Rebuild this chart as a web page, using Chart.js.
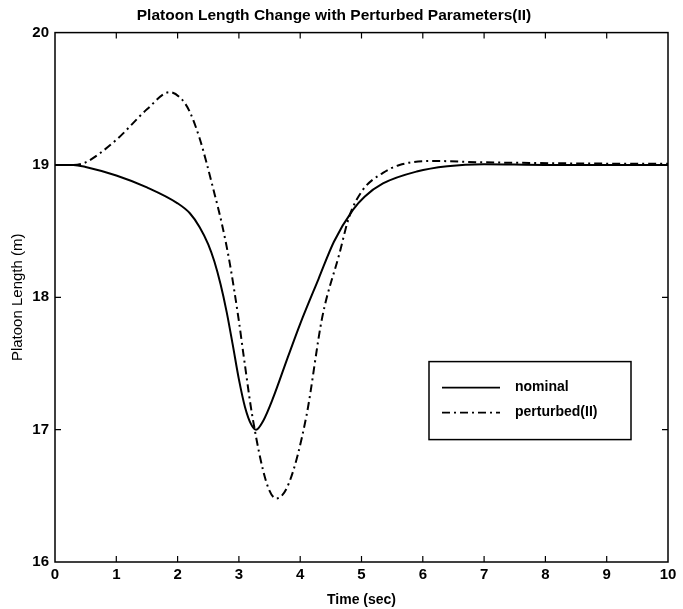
<!DOCTYPE html>
<html>
<head>
<meta charset="utf-8">
<script src="https://cdn.jsdelivr.net/npm/chart.js@4/dist/chart.umd.min.js"></script>
<style>
  html, body { margin: 0; padding: 0; background: #fff; }
  #wrap { width: 683px; height: 609px; }
</style>
</head>
<body>
<div id="wrap"><canvas id="c" width="683" height="609"></canvas></div>
<script>
// ---- data ----
const nominalTime = [0, 0.3, 0.5, 1.0, 1.5, 2.0, 2.2, 2.36, 2.5, 2.6, 2.7, 2.8, 2.9, 3.0, 3.1, 3.2, 3.28, 3.4, 3.55, 3.8, 4.0, 4.3, 4.55, 4.86, 5.05, 5.35, 5.9, 6.4, 7.0, 8.0, 9.0, 10.0];
const nominalValue = [19.0, 19.0, 18.985, 18.92, 18.83, 18.71, 18.635, 18.53, 18.40, 18.27, 18.10, 17.89, 17.64, 17.38, 17.17, 17.04, 17.0, 17.07, 17.23, 17.55, 17.80, 18.14, 18.42, 18.66, 18.76, 18.86, 18.95, 18.99, 19.005, 19.0, 19.0, 19.0];

const perturbedTime = [0, 0.3, 0.5, 1.0, 1.5, 1.87, 2.08, 2.2, 2.36, 2.47, 2.57, 2.72, 2.85, 3.0, 3.08, 3.22, 3.45, 3.61, 3.82, 4.10, 4.36, 4.64, 4.80, 5.02, 5.35, 5.62, 6.17, 6.98, 7.8, 9.0, 10.0];
const perturbedValue = [19.0, 19.0, 19.02, 19.19, 19.42, 19.55, 19.49, 19.40, 19.20, 19.02, 18.84, 18.56, 18.26, 17.82, 17.55, 17.10, 16.60, 16.48, 16.60, 17.10, 17.85, 18.33, 18.61, 18.81, 18.94, 19.0, 19.03, 19.02, 19.015, 19.01, 19.01];

const seriesNames = ["nominal", "perturbed(II)"];
const xTickLabels = ["0", "1", "2", "3", "4", "5", "6", "7", "8", "9", "10"];
const yTickLabels = ["16", "17", "18", "19", "20"];
const chartTitle = "Platoon Length Change with Perturbed Parameters(II)";
const xTitle = "Time (sec)";
const yTitle = "Platoon Length (m)";

const toPts = (xs, ys) => xs.map((x, i) => ({ x: x, y: ys[i] }));
const FONT = "'Liberation Sans', Arial, sans-serif";
const DASH = [8, 4, 2, 4];

const frameTicks = {
  id: 'frameTicks',
  afterDatasetsDraw(chart) {
    const { ctx, chartArea: a, scales: { x, y } } = chart;
    ctx.save();
    ctx.strokeStyle = '#000';
    ctx.lineWidth = 1.5;
    ctx.strokeRect(a.left, a.top, a.right - a.left, a.bottom - a.top);
    ctx.lineWidth = 1.2;
    const L = 6;
    for (let v = 1; v < 10; v++) {
      const px = x.getPixelForValue(v);
      ctx.beginPath();
      ctx.moveTo(px, a.bottom); ctx.lineTo(px, a.bottom - L);
      ctx.moveTo(px, a.top); ctx.lineTo(px, a.top + L);
      ctx.stroke();
    }
    for (let v = 17; v < 20; v++) {
      const py = y.getPixelForValue(v);
      ctx.beginPath();
      ctx.moveTo(a.left, py); ctx.lineTo(a.left + L, py);
      ctx.moveTo(a.right, py); ctx.lineTo(a.right - L, py);
      ctx.stroke();
    }
    // legend box
    const bx = a.left + 374, by = a.top + 329, bw = 202, bh = 78;
    ctx.fillStyle = '#fff';
    ctx.fillRect(bx, by, bw, bh);
    ctx.lineWidth = 1.5;
    ctx.strokeRect(bx, by, bw, bh);
    const rows = [by + 26, by + 51];
    chart.data.datasets.forEach((ds, i) => {
      ctx.beginPath();
      ctx.setLineDash(ds.borderDash || []);
      ctx.lineWidth = 1.6;
      ctx.moveTo(bx + 13, rows[i]);
      ctx.lineTo(bx + 71, rows[i]);
      ctx.stroke();
      ctx.setLineDash([]);
      ctx.fillStyle = '#000';
      ctx.font = 'bold 14px ' + FONT;
      ctx.textBaseline = 'middle';
      ctx.textAlign = 'left';
      ctx.fillText(ds.label, bx + 86, rows[i]);
    });
    ctx.restore();
  }
};

new Chart(document.getElementById('c'), {
  type: 'line',
  data: {
    datasets: [
      { label: seriesNames[0], data: toPts(nominalTime, nominalValue), borderColor: '#000', borderWidth: 2, pointRadius: 0, cubicInterpolationMode: 'monotone', fill: false },
      { label: seriesNames[1], data: toPts(perturbedTime, perturbedValue), borderColor: '#000', borderWidth: 2, borderDash: DASH, pointRadius: 0, cubicInterpolationMode: 'monotone', fill: false }
    ]
  },
  options: {
    responsive: false,
    animation: false,
    layout: { padding: { left: 0, right: 15, top: 0, bottom: 0 } },
    plugins: {
      legend: { display: false },
      tooltip: { enabled: false },
      title: {
        display: true, text: chartTitle, color: '#000',
        font: { family: FONT, size: 15.5, weight: 'bold' },
        padding: { top: 6, bottom: 8 }
      }
    },
    scales: {
      x: {
        type: 'linear', min: 0, max: 10,
        grid: { display: false, drawTicks: false },
        border: { display: false },
        ticks: {
          stepSize: 1, color: '#000', padding: 4,
          font: { family: FONT, size: 15, weight: 'bold' },
          callback: (v) => xTickLabels[v] !== undefined ? xTickLabels[v] : ''
        },
        title: { display: true, text: xTitle, color: '#000', padding: { top: 0, bottom: 0 }, font: { family: FONT, size: 14, weight: 'bold' } },
        afterFit: (s) => { s.height = 47; }
      },
      y: {
        min: 16, max: 20,
        grid: { display: false, drawTicks: false },
        border: { display: false },
        ticks: {
          stepSize: 1, color: '#000', padding: 6,
          font: { family: FONT, size: 15, weight: 'bold' },
          callback: (v) => yTickLabels[v - 16] !== undefined ? yTickLabels[v - 16] : ''
        },
        title: { display: true, text: yTitle, color: '#000', padding: { top: 9, bottom: 4 }, font: { family: FONT, size: 15, weight: 'normal' } },
        afterFit: (s) => { s.width = 55; }
      }
    }
  },
  plugins: [frameTicks]
});
</script>
</body>
</html>
